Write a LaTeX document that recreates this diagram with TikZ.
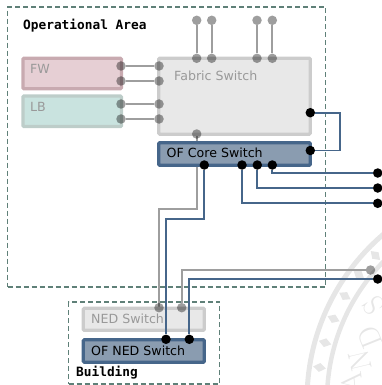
\documentclass[tikz,border=0pt]{standalone}
\usepackage{fontspec}
\setsansfont{DejaVu Sans}
\setmonofont{DejaVu Sans Mono}
\usepackage{tikz}
\usetikzlibrary{arrows}
\definecolor{areadash}{HTML}{5F8078}
\definecolor{ofblue}{HTML}{46668A}
\definecolor{offill}{HTML}{8A9CB0}
\definecolor{seal}{HTML}{E6E6E6}

\begin{document}
\begin{tikzpicture}[x=1pt,y=-1pt,
      box/.style={draw,rounded corners=1pt,line width=3.2pt,inner sep=0pt},
      fw box/.style={box,draw=fwedge,fill=fwfill},
      lb box/.style={box,draw=lbedge,fill=lbfill},
      grey box/.style={box,draw=black!20,fill=black!9},
      of box/.style={box,draw=ofblue,fill=offill},
      area/.style={draw=areadash,line width=1.8pt,dash pattern=on 5pt off 3pt,inner sep=0pt},
      title/.style={font=\ttfamily\bfseries\fontsize{12.8}{14}\selectfont,anchor=base west,inner sep=0pt},
      sw text/.style={font=\sffamily\fontsize{12.6}{14}\selectfont,anchor=base west,inner sep=0pt},
      faded text/.style={sw text,text=black!40},
      grey dot/.style={circle,fill=black,opacity=.38,minimum size=9.5pt,inner sep=0pt},
      of dot/.style={circle,fill=black,minimum size=9.5pt,inner sep=0pt},
      grey line/.style={draw=black!38,line width=2.2pt},
      of line/.style={draw=ofblue,line width=1.9pt}]

      \definecolor{fwedge}{HTML}{C8AAB0}
      \definecolor{fwfill}{HTML}{E6CFD4}
      \definecolor{lbedge}{HTML}{BDCDC9}
      \definecolor{lbfill}{HTML}{C9E3DF}

      \useasboundingbox (0,0) rectangle (381,385);

      % seal behind everything
      \coordinate (sealc) at (525,400);
      \draw[seal,line width=5pt] (sealc) circle (218);
      \draw[seal,line width=4.5pt] (sealc) circle (198);
      \foreach \a in {182,189,...,245}
        \fill[seal,shift={({525+208*cos(\a)},{400+208*sin(\a)})},rotate=-\a]
          (-6.5,0) -- (0,-4.5) -- (6.5,0) -- (0,4.5) -- cycle;
      \foreach \l/\a/\r in {A/186/174,N/193.5/170,D/202/167,S/212/178}
        \node[text=seal,font=\fontsize{30}{30}\selectfont,rotate=\a-90] (seal\l)
          at ({525+\r*cos(\a)},{400+\r*sin(\a)}) {\l};

      % areas
      \node[area,minimum width=318pt,minimum height=280pt] (opsarea) at (166.5,146.7) {};
      \node[area,minimum width=151pt,minimum height=82pt] (bldarea) at (144,343) {};

      % grey cabling sits under the boxes
      \coordinate (fabtap) at (196.7,134);
      \coordinate (nedtap) at (159,307.7);
      \coordinate (greybend) at (178,209);
      \draw[grey line] (fabtap) |- (greybend) -| (nedtap);

      % switches
      \node[fw box,minimum width=98.5pt,minimum height=30.5pt] (fw) at (72.2,73.5) {};
      \node[lb box,minimum width=98.5pt,minimum height=30.5pt] (lb) at (72.2,111.3) {};
      \node[grey box,minimum width=151.5pt,minimum height=76pt] (fabric) at (234.5,96.2) {};
      \node[of box,minimum width=151.5pt,minimum height=22.5pt] (core) at (234.5,154) {};
      \node[grey box,minimum width=121pt,minimum height=22pt] (ned) at (143.8,319.3) {};
      \node[of box,minimum width=121pt,minimum height=22.5pt] (ofned) at (143.8,351) {};

      % labels
      \node[title] (opstitle) at (23,30) {Operational Area};
      \node[title] (bldtitle) at (76,376.7) {Building};
      \node[faded text] (fwtext) at (30,74) {FW};
      \node[faded text] (lbtext) at (30,111) {LB};
      \node[faded text] (fabtext) at (174,81) {Fabric Switch};
      \node[sw text] (coretext) at (166.5,157) {OF Core Switch};
      \node[faded text] (nedtext) at (91,323) {NED Switch};
      \node[sw text] (ofnedtext) at (91,355) {OF NED Switch};

      % dots
      \foreach \n/\x/\y in {fw1/121/66,fw2/121/81,lb1/121/104,lb2/121/119,
          fab1/159/66,fab2/159/81,fab3/159/104,fab4/159/119,
          fabdown/196.7/134,nedin1/159/307.7,nedin2/181.7/307.7,greyout/370.5/270,
          fabtopa/196.7/58.3,fabtopb/211.7/58.3,fabtopc/257/58.3,fabtopd/272.3/58.3,
          upa/196.7/20.3,upb/211.7/20.3,upc/257/20.3,upd/272.3/20.3}
        \node[grey dot] (\n) at (\x,\y) {};

      \node[of dot] (fabout) at (310.3,112.7) {};
      \node[of dot] (coreup) at (310.3,150.5) {};
      \node[of dot] (core1) at (204.3,165) {};
      \node[of dot] (core2) at (242,165) {};
      \node[of dot] (core3) at (257.3,165) {};
      \node[of dot] (core4) at (272.3,165) {};
      \node[of dot] (out1) at (377.7,173) {};
      \node[of dot] (out2) at (377.7,188) {};
      \node[of dot] (out3) at (377.7,203.3) {};
      \node[of dot] (out4) at (377.7,279) {};
      \node[of dot] (ofned1) at (166,339.3) {};
      \node[of dot] (ofned2) at (189.3,339.3) {};

      \coordinate (loopturn) at (340,130);
      \coordinate (ofbend) at (185,218.7);

      \path[grey line]
      (fw1) edge (fab1)
      (fw2) edge (fab2)
      (lb1) edge (fab3)
      (lb2) edge (fab4)
      (fabtopa) edge (upa)
      (fabtopb) edge (upb)
      (fabtopc) edge (upc)
      (fabtopd) edge (upd);
      \draw[grey line] (nedin2) |- (greyout);

      \draw[of line] (fabout) -| (loopturn) |- (coreup);
      \draw[of line] (core4) |- (out1);
      \draw[of line] (core3) |- (out2);
      \draw[of line] (core2) |- (out3);
      \draw[of line] (core1) |- (ofbend) -| (ofned1);
      \draw[of line] (ofned2) |- (out4);
    \end{tikzpicture}
\end{document}
